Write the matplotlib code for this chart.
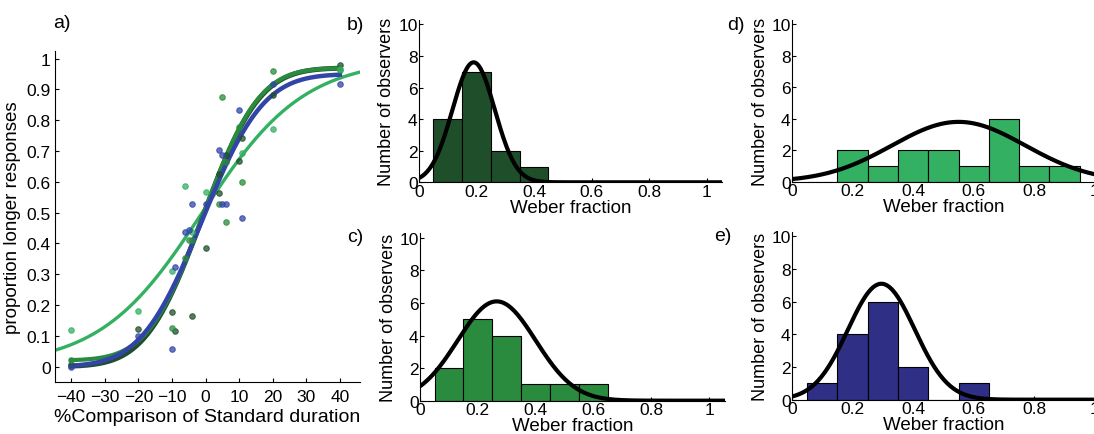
import math

import numpy as np
import matplotlib
matplotlib.use("Agg")
import matplotlib.pyplot as plt

plt.rcParams["font.family"] = ["Liberation Sans", "DejaVu Sans"]

# ---------------------------------------------------------------------------
# data
# ---------------------------------------------------------------------------

# panel a: proportion "longer" responses per condition
dark_x = [-40, -20, -10, -9, -4, 0, 4, 4, 6, 10, 11, 20, 40]
dark_y = [0.005, 0.122, 0.176, 0.117, 0.166, 0.385, 0.625, 0.563, 0.686, 0.668, 0.743, 0.881, 0.98]
mid_x = [-40, -10, -6, -5, -4, 4, 5, 6, 6, 10, 11, 20, 40]
mid_y = [0.02, 0.124, 0.352, 0.41, 0.41, 0.529, 0.875, 0.47, 0.666, 0.777, 0.6, 0.96, 0.962]
light_x = [-40, -20, -10, -6, -4, 0, 11, 20, 40]
light_y = [0.12, 0.18, 0.312, 0.588, 0.438, 0.567, 0.695, 0.773, 0.965]
blue_x = [-40, -20, -10, -9, -6, -5, -4, 0, 4, 5, 5, 6, 10, 11, 20, 40]
blue_y = [0.0, 0.1, 0.058, 0.322, 0.438, 0.444, 0.529, 0.529, 0.705, 0.686, 0.529, 0.529, 0.832, 0.484, 0.919, 0.919]

# fitted psychometric functions: (mu, sigma, lower, upper)
dark_fit = (-0.9, 13.3, 0.0, 0.97)
mid_fit = (-0.6, 13.0, 0.02, 0.97)
blue_fit = (-1.0, 14.3, 0.0, 0.95)
light_fit = (-1.0, 15.2)          # logistic (mu, scale)

# panels b-e: histograms of Weber fractions (bin centres + counts)
bin_centres = [0.1, 0.2, 0.3, 0.4, 0.5, 0.6, 0.7, 0.8, 0.9]
counts_b = [4, 7, 2, 1, 0, 0, 0, 0, 0]
counts_c = [2, 5, 4, 1, 1, 1, 0, 0, 0]
counts_d = [0, 2, 1, 2, 2, 1, 4, 1, 1]
counts_e = [1, 4, 6, 2, 0, 1, 0, 0, 0]

# normal fits drawn over the histograms: (peak, mu, sigma)
gauss_b = (7.6, 0.19, 0.0735)
gauss_c = (6.1, 0.265, 0.135)
gauss_d = (3.8, 0.55, 0.22)
gauss_e = (7.1, 0.295, 0.11)

C_DARK = "#1f4f2a"
C_MID = "#2a8a3e"
C_LIGHT = "#33b062"
C_BLUE = "#2e2f85"
C_BLUE_LINE = "#3344a8"


def cum_normal(x, mu, sigma, lo, hi):
    phi = np.array([0.5 * (1 + math.erf((v - mu) / (sigma * math.sqrt(2)))) for v in x])
    return lo + (hi - lo) * phi


def gauss(x, peak, mu, sigma):
    return peak * np.exp(-(x - mu) ** 2 / (2 * sigma ** 2))


fig = plt.figure(figsize=(10.94, 4.35), dpi=100)

# ---------------------------------------------------------------------------
# a) psychometric curves
# ---------------------------------------------------------------------------
ax = fig.add_axes([0.0503, 0.1195, 0.2788, 0.761])
xs = np.linspace(-40, 40, 300)
xl = np.linspace(-46, 47, 300)
ax.plot(xl, 1 / (1 + np.exp(-(xl - light_fit[0]) / light_fit[1])), color=C_LIGHT, lw=2.4, zorder=2)
ax.plot(xs, cum_normal(xs, *dark_fit), color=C_DARK, lw=3.6, zorder=3)
ax.plot(xs, cum_normal(xs, *mid_fit), color=C_MID, lw=3.0, zorder=3)
ax.plot(xs, cum_normal(xs, *blue_fit), color=C_BLUE_LINE, lw=3.2, zorder=4)

for px, py, c in [(dark_x, dark_y, C_DARK), (mid_x, mid_y, C_MID),
                  (light_x, light_y, C_LIGHT), (blue_x, blue_y, C_BLUE_LINE)]:
    ax.plot(px, py, "o", ms=4, mfc=c, mec=c, mew=0.8, alpha=0.75, zorder=5)

ax.set_xlim(-44.8, 46)
ax.set_ylim(-0.05, 1.025)
ax.set_xticks(range(-40, 41, 10))
ax.set_yticks(np.arange(0, 1.01, 0.1))
ax.set_yticklabels(["0"] + [f"{v:.1f}" for v in np.arange(0.1, 0.95, 0.1)] + ["1"])
ax.set_xlabel("%Comparison of Standard duration", fontsize=14, labelpad=3)
ax.set_ylabel("proportion longer responses", fontsize=13.5)
ax.yaxis.set_label_coords(-0.112, 0.5)
ax.spines[["top", "right"]].set_visible(False)
ax.tick_params(direction="in", length=3, labelsize=12.5, pad=3)
ax.tick_params(axis="x", pad=5)

# ---------------------------------------------------------------------------
# b)-e) histograms
# ---------------------------------------------------------------------------
hist_panels = [
    ([0.383, 0.5786, 0.2773, 0.3738], counts_b, gauss_b, C_DARK, 1.055),
    ([0.384, 0.0766, 0.2787, 0.3855], counts_c, gauss_c, C_MID, 1.055),
    ([0.724, 0.5800, 0.2768, 0.3728], counts_d, gauss_d, C_LIGHT, 1.0),
    ([0.724, 0.0789, 0.2768, 0.3866], counts_e, gauss_e, C_BLUE, 1.0),
]
for rect, counts, g, color, xmax in hist_panels:
    h = fig.add_axes(rect)
    h.bar(bin_centres, counts, width=0.1, color=color, edgecolor="black", linewidth=0.8, zorder=2)
    gx = np.linspace(0, 1.055, 300)
    h.plot(gx, gauss(gx, *g), color="black", lw=3, zorder=3)
    h.set_xlim(0, xmax)
    h.set_ylim(0, 10.3)
    h.set_xticks([0, 0.2, 0.4, 0.6, 0.8, 1])
    h.set_xticklabels(["0", "0.2", "0.4", "0.6", "0.8", "1"])
    h.set_yticks(range(0, 11, 2))
    h.spines[["top", "right"]].set_visible(False)
    h.tick_params(direction="in", length=3, labelsize=12.5, pad=1)
    h.set_xlabel("Weber fraction", fontsize=13.5, labelpad=0)
    h.set_ylabel("Number of observers", fontsize=13, labelpad=2)

# panel letters
for lab, x, y in [("a)", 62, 23), ("b)", 355, 25), ("c)", 355, 238),
                  ("d)", 736, 25), ("e)", 723, 237)]:
    fig.text(x / 1094, 1 - y / 435, lab, fontsize=14, ha="center", va="center")

fig.savefig("out.png", dpi=100)
